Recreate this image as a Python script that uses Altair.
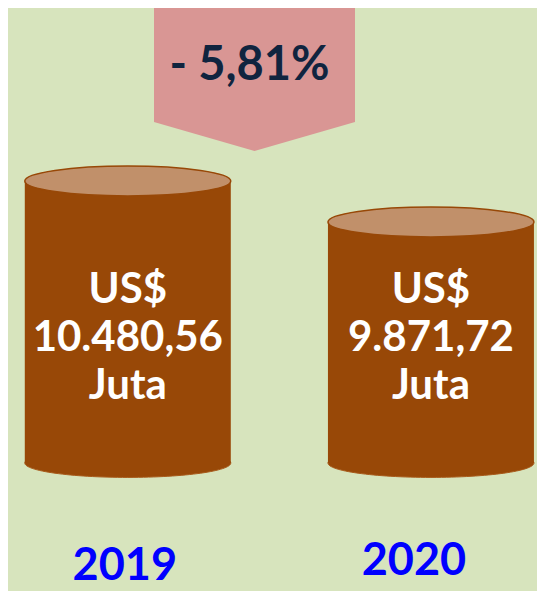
import altair as alt
import pandas as pd

# ---- data ----
years = [2019, 2020]
values = [10480.56, 9871.72]          # US$ juta
value_labels = ["US$\n10.480,56\nJuta", "US$\n9.871,72\nJuta"]
year_labels = ["2019", "2020"]
base_value = 6293.0                    # visual baseline of the cylinders
change_label = "- 5,81%"

df = pd.DataFrame({
    "year": years,
    "value": values,
    "base": [base_value] * len(years),
    "label": value_labels,
    "year_label": year_labels,
})

BG = "#D7E4BD"
BODY = "#984807"
TOP = "#C1906A"
PINK = "#D99694"
NAVY = "#10243F"
FONT = "Lato"

W, H = 529, 583
CYL_W = 206

x = alt.X("year:Q", axis=None,
          scale=alt.Scale(domain=[2018.62136, 2020.33333], nice=False, zero=False))
y_top = 13049.6
y_bot = y_top - H / 0.067341
y_scale = alt.Scale(domain=[y_bot, y_top], nice=False, zero=False)

ellipse_top = "M-1,0 A1,0.145 0 1,1 1,0 A1,0.145 0 1,1 -1,0 Z"
ellipse_bot = "M-1,0 A1,0.14 0 1,1 1,0 A1,0.14 0 1,1 -1,0 Z"
arrow_shape = "M-1,-0.7214 L1,-0.7214 L1,0.4328 L0,0.7214 L-1,0.4328 Z"

base = alt.Chart(df)

bottom = base.mark_point(shape=ellipse_bot, filled=True, fill=BODY, stroke="#A85A1A",
                         strokeWidth=1, opacity=1, size=CYL_W * CYL_W).encode(
    x=x, y=alt.Y("base:Q", axis=None, scale=y_scale))

body = base.mark_bar(color=BODY, size=CYL_W).encode(
    x=x,
    y=alt.Y("value:Q", axis=None, scale=y_scale),
    y2="base:Q",
)

top = base.mark_point(shape=ellipse_top, filled=True, fill=TOP, stroke=BODY,
                      strokeWidth=1.5, opacity=1, size=CYL_W * CYL_W).encode(
    x=x, y=alt.Y("value:Q", axis=None, scale=y_scale))

inner = base.mark_text(font=FONT, fontWeight="bold", fontSize=42, color="white",
                       lineBreak="\n", lineHeight=48, align="center",
                       baseline="alphabetic").encode(
    x=x, y=alt.value(295), text="label:N")

y2019 = base.transform_filter("datum.year == 2019").mark_text(
    font=FONT, fontWeight="bold", fontSize=45, color="#0000FF",
    align="center", baseline="alphabetic", dx=-3).encode(
    x=x, y=alt.value(572), text="year_label:N")

y2020 = base.transform_filter("datum.year == 2020").mark_text(
    font=FONT, fontWeight="bold", fontSize=45, color="#0000FF",
    align="center", baseline="alphabetic", dx=-17).encode(
    x=x, y=alt.value(567), text="year_label:N")

arrow_df = pd.DataFrame({"label": [change_label]})
arrow = alt.Chart(arrow_df).mark_point(shape=arrow_shape, filled=True, fill=PINK,
                                       opacity=1, strokeWidth=0, size=201 * 201).encode(
    x=alt.value(246.5), y=alt.value(70.5))
arrow_text = alt.Chart(arrow_df).mark_text(font=FONT, fontWeight="bold", fontSize=47,
                                           color=NAVY, align="center",
                                           baseline="alphabetic").encode(
    x=alt.value(241.5), y=alt.value(72), text="label:N")

chart = alt.layer(bottom, body, top, inner, y2019, y2020, arrow, arrow_text).properties(
    width=W, height=H,
    autosize=alt.AutoSizeParams(type="none"),
    padding=0,
    background=BG,
).configure_view(stroke=None)

chart.save("out.html", embed_options={"renderer": "svg", "actions": False})
